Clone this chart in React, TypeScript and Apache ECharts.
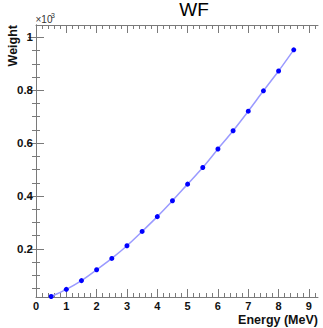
import React, { useEffect, useRef } from "react";
import * as echarts from "echarts";

// Weighting function sampled every 0.5 MeV
const energies = [0.5, 1, 1.5, 2, 2.5, 3, 3.5, 4, 4.5, 5, 5.5, 6, 6.5, 7, 7.5, 8, 8.5];
const weights = [20, 47, 80, 121, 164, 212, 266, 322, 382, 445, 508, 578, 647, 721, 798, 873, 953];

// Axis ranges and tick positions
const xRange = [0, 9.3];
const yRange = [18, 1047];
const xMajorTicks = [0, 1, 2, 3, 4, 5, 6, 7, 8, 9];
const xMinorStep = 0.2;
const yMajorTicks = [200, 400, 600, 800, 1000];
const yMinorStep = 50;

const minorBetween = (lo: number, hi: number, step: number, majors: number[]) => {
  const out: number[] = [];
  const n = Math.floor(hi / step + 1e-6);
  for (let i = 0; i <= n; i++) {
    const v = +(i * step).toFixed(6);
    if (v < lo || v > hi) continue;
    if (majors.some((m) => Math.abs(m - v) < 1e-6)) continue;
    out.push(v);
  }
  return out;
};

const FONT = "'Liberation Sans', Arial, Helvetica, sans-serif";
const AXIS_GREY = "#7a7a7a";

export default function App() {
  const ref = useRef<HTMLDivElement>(null);

  useEffect(() => {
    if (!ref.current) return;
    const chart = echarts.init(ref.current, undefined, { renderer: "svg" });

    const xMinorTicks = minorBetween(xRange[0], xRange[1], xMinorStep, xMajorTicks);
    const yMinorTicks = minorBetween(yRange[0], yRange[1], yMinorStep, yMajorTicks);

    const xAxisBase = (position: "bottom" | "top", ticks: number[], len: number, labels: boolean, line: boolean) => ({
      type: "value" as const,
      position,
      min: xRange[0],
      max: xRange[1],
      axisLine: { show: line, lineStyle: { color: AXIS_GREY, width: 1 } },
      axisTick: { show: true, inside: true, length: len, customValues: ticks, lineStyle: { color: AXIS_GREY, width: 1 } },
      axisLabel: labels
        ? {
            show: true,
            customValues: xMajorTicks,
            margin: 3,
            color: "#111",
            fontFamily: FONT,
            fontWeight: "bold" as const,
            fontSize: 11,
            lineHeight: 11,
          }
        : { show: false },
      splitLine: { show: false },
    });

    const yAxisBase = (position: "left" | "right", ticks: number[], len: number, labels: boolean, line: boolean) => ({
      type: "value" as const,
      position,
      min: yRange[0],
      max: yRange[1],
      axisLine: { show: line, lineStyle: { color: AXIS_GREY, width: 1 } },
      axisTick: { show: true, inside: true, length: len, customValues: ticks, lineStyle: { color: AXIS_GREY, width: 1 } },
      axisLabel: labels
        ? {
            show: true,
            customValues: yMajorTicks,
            margin: 3,
            color: "#111",
            fontFamily: FONT,
            fontWeight: "bold" as const,
            fontSize: 11.5,
            formatter: (v: number) => String(+(v / 1000).toFixed(3)),
          }
        : { show: false },
      splitLine: { show: false },
    });

    chart.setOption({
      animation: false,
      backgroundColor: "#ffffff",
      grid: { left: 36, right: 5, top: 25, bottom: 31, containLabel: false },
      xAxis: [
        xAxisBase("bottom", xMajorTicks, 8, true, true),
        xAxisBase("bottom", xMinorTicks, 4, false, false),
        xAxisBase("top", xMajorTicks, 8, false, true),
        xAxisBase("top", xMinorTicks, 4, false, false),
      ],
      yAxis: [
        yAxisBase("left", yMajorTicks, 8, true, true),
        yAxisBase("left", yMinorTicks, 4, false, false),
        yAxisBase("right", yMajorTicks, 8, false, true),
        yAxisBase("right", yMinorTicks, 4, false, false),
      ],
      series: [
        {
          type: "line",
          xAxisIndex: 0,
          yAxisIndex: 0,
          data: energies.map((e, i) => [e, weights[i]]),
          smooth: 0.3,
          clip: false,
          symbol: "circle",
          symbolSize: 5,
          lineStyle: { color: "#9a9aff", width: 1.5 },
          itemStyle: { color: "#0000ff" },
          z: 5,
        },
      ],
      graphic: [
        {
          type: "text",
          x: 194,
          y: 9.5,
          style: { text: "WF", font: `19px ${FONT}`, fill: "#000", align: "center", verticalAlign: "middle" },
        },
        {
          type: "text",
          x: 12.5,
          y: 25,
          rotation: Math.PI / 2,
          style: { text: "Weight", font: `bold 12.5px ${FONT}`, fill: "#111", align: "right", verticalAlign: "middle" },
        },
        {
          type: "text",
          x: 318,
          y: 320,
          style: { text: "Energy (MeV)", font: `bold 12.5px ${FONT}`, fill: "#111", align: "right", verticalAlign: "middle", lineHeight: 12.5 },
        },
        {
          type: "text",
          x: 35.5,
          y: 19.5,
          style: { text: "×10", font: `10px ${FONT}`, fill: "#333", align: "left", verticalAlign: "middle" },
        },
        {
          type: "text",
          x: 51,
          y: 15,
          style: { text: "3", font: `7px ${FONT}`, fill: "#333", align: "left", verticalAlign: "middle" },
        },
      ],
    });

    return () => chart.dispose();
  }, []);

  return (
    <div
      ref={ref}
      style={{ position: "fixed", left: 0, top: 0, width: 323, height: 328, background: "#fff" }}
    />
  );
}
